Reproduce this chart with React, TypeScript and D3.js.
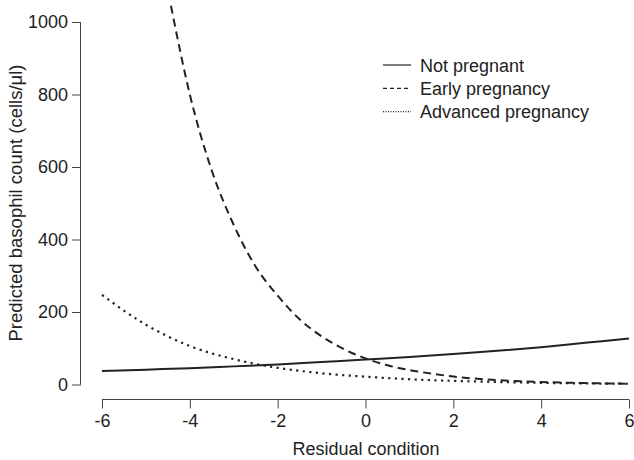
import React, { useEffect, useRef } from 'react';
import * as d3 from 'd3';

// Values
const xTicks = [-6, -4, -2, 0, 2, 4, 6];
const yTicks = [0, 200, 400, 600, 800, 1000];

const conditionX = [-6, -5, -4, -3, -2, -1, 0, 1, 2, 3, 4, 5, 6];
const notPregnant = [37, 41, 45, 50, 55, 62, 69, 76, 84, 93, 103, 115, 127];
const advancedPregnancy = [247, 165, 106, 70, 46, 31, 21.5, 14.5, 10, 7, 4.5, 3, 2];

const earlyX = [-4.43, -4, -3.5, -3, -2.5, -2, -1.5, -1, -0.5, 0, 0.5, 1, 1.5, 2, 3, 4, 5, 6];
const earlyPregnancy = [1045, 800, 590, 440, 325, 245, 180, 133, 98, 72, 53, 40, 30, 22, 12, 7, 4, 2];

const seriesLabels = ['Not pregnant', 'Early pregnancy', 'Advanced pregnancy'];

const FONT = '"Liberation Sans", Arial, Helvetica, sans-serif';
const INK = '#222';

const App = () => {
  const svgRef = useRef<SVGSVGElement | null>(null);

  useEffect(() => {
    if (!svgRef.current) return;
    const svg = d3.select(svgRef.current);
    svg.selectAll('*').remove();

    const x = d3.scaleLinear().domain([-6, 6]).range([102, 629]);
    const y = d3.scaleLinear().domain([0, 1000]).range([384.5, 22]);

    // y axis
    const yAxis = svg.append('g').attr('transform', 'translate(81,0)');
    yAxis.call(d3.axisLeft(y).tickValues(yTicks).tickSize(9).tickPadding(4).tickFormat(d3.format('d')) as any);
    yAxis.select('.domain').attr('d', `M-0.5,${y(0)}V${y(1000)}`).attr('stroke', '#444');
    yAxis.selectAll('line').attr('stroke', '#444');
    yAxis.selectAll('text')
      .attr('fill', INK)
      .style('font-family', FONT)
      .style('font-size', '18px');

    // x axis
    const xAxis = svg.append('g').attr('transform', 'translate(0,399.5)');
    xAxis.call(d3.axisBottom(x).tickValues(xTicks).tickSize(9).tickPadding(6).tickFormat(d3.format('d')) as any);
    xAxis.select('.domain').attr('d', `M${x(-6)},0H${x(6)}`).attr('stroke', '#444');
    xAxis.selectAll('line').attr('stroke', '#444');
    xAxis.selectAll('text')
      .attr('fill', INK)
      .style('font-family', FONT)
      .style('font-size', '18px');
    // d3 uses a minus sign, the figure uses a hyphen
    xAxis.selectAll('text').text((d: any) => String(d));

    // axis titles
    svg.append('text')
      .attr('x', 366)
      .attr('y', 455)
      .attr('text-anchor', 'middle')
      .attr('fill', INK)
      .style('font-family', FONT)
      .style('font-size', '18px')
      .text('Residual condition');

    svg.append('text')
      .attr('transform', 'translate(22,203) rotate(-90)')
      .attr('text-anchor', 'middle')
      .attr('fill', INK)
      .style('font-family', FONT)
      .style('font-size', '18.5px')
      .text('Predicted basophil count (cells/μl)');

    // curves
    const line = d3.line<[number, number]>()
      .x(d => x(d[0]))
      .y(d => y(d[1]))
      .curve(d3.curveMonotoneX);

    const solidData = conditionX.map((v, i) => [v, notPregnant[i]] as [number, number]);
    const earlyData = earlyX.map((v, i) => [v, earlyPregnancy[i]] as [number, number]);
    const advData = conditionX.map((v, i) => [v, advancedPregnancy[i]] as [number, number]);

    svg.append('path')
      .attr('d', line(advData))
      .attr('fill', 'none')
      .attr('stroke', INK)
      .attr('stroke-width', 2.2)
      .attr('stroke-dasharray', '2.2,4.4');

    svg.append('path')
      .attr('d', line(earlyData))
      .attr('fill', 'none')
      .attr('stroke', INK)
      .attr('stroke-width', 2)
      .attr('stroke-dasharray', '8,5');

    svg.append('path')
      .attr('d', line(solidData))
      .attr('fill', 'none')
      .attr('stroke', INK)
      .attr('stroke-width', 2);

    // legend
    const dashes = [null, '4,3', '1,1.5'];
    const legend = svg.append('g').attr('transform', 'translate(383,65)');
    seriesLabels.forEach((label, i) => {
      const g = legend.append('g').attr('transform', `translate(0,${i * 23.3})`);
      g.append('line')
        .attr('x1', 0)
        .attr('x2', 28)
        .attr('y1', 0)
        .attr('y2', 0)
        .attr('stroke', INK)
        .attr('stroke-width', 1.2)
        .attr('stroke-dasharray', dashes[i]);
      g.append('text')
        .attr('x', 37)
        .attr('y', 6.5)
        .attr('fill', INK)
        .style('font-family', FONT)
        .style('font-size', '18px')
        .text(label);
    });
  }, []);

  return (
    <svg
      ref={svgRef}
      width={634}
      height={460}
      style={{ position: 'absolute', left: 0, top: 0, background: '#fff', display: 'block' }}
    />
  );
};

export default App;
